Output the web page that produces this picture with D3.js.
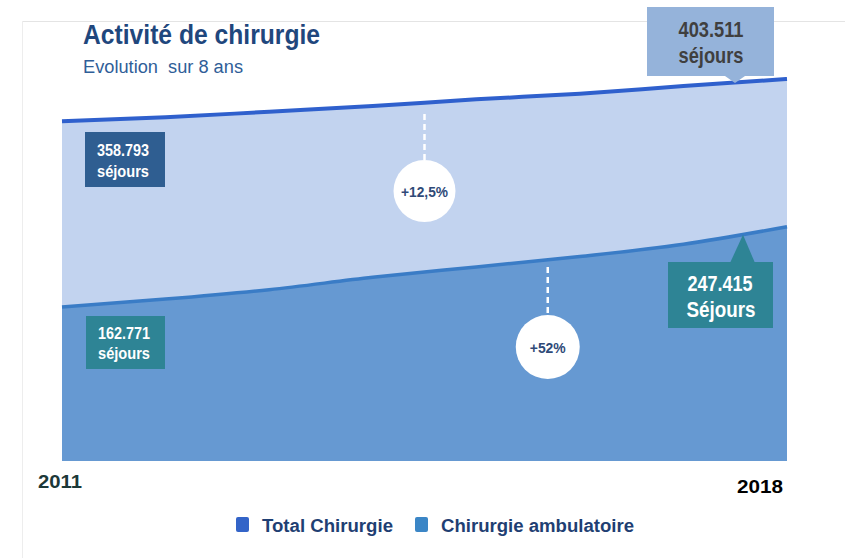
<!DOCTYPE html>
<html>
<head>
<meta charset="utf-8">
<script src="https://cdn.jsdelivr.net/npm/d3@7"></script>
<style>
  body { margin: 0; background: #fff; }
  svg { display: block; font-family: "Liberation Sans", Arial, sans-serif; }
</style>
</head>
<body>
<svg id="chart" width="845" height="558"></svg>
<script>
var years = [2011, 2012, 2013, 2014, 2015, 2016, 2017, 2018]
var totalChirurgie = [358793, 363000, 369000, 375000, 382000, 388000, 396000, 403511]
var chirurgieAmbulatoire = [162771, 171000, 181000, 194000, 205000, 216000, 229000, 247415]
var seriesNames = ["Total Chirurgie", "Chirurgie ambulatoire"]
var yearLabels = ["2011", "2018"]
var growthLabels = ["+12,5%", "+52%"]

var svg = d3.select('#chart')

var data = years.map(function(yr, i) {
    return { year: yr, total: totalChirurgie[i], amb: chirurgieAmbulatoire[i] }
})

var x = d3.scaleLinear().domain(d3.extent(years)).range([62, 787]),
    y = d3.scaleLinear().domain([0, d3.max(totalChirurgie)]).range([461, 79])

// helper: condensed looking text, the picture is squeezed horizontally
function label(txt, px, py, size, w, opts) {
    opts = opts || {}
    var t = svg.append('text')
        .attr('x', px).attr('y', py)
        .attr('font-size', size)
        .attr('font-weight', opts.weight || 'bold')
        .attr('fill', opts.fill || '#fff')
        .attr('text-anchor', opts.anchor || 'middle')
        .style('white-space', 'pre')
        .text(txt)
    if (w) t.attr('textLength', w).attr('lengthAdjust', 'spacingAndGlyphs')
    return t
}

// faint frame
svg.append('line').attr('x1', 22).attr('x2', 845).attr('y1', 21.5).attr('y2', 21.5)
    .attr('stroke', '#e4e4e4').attr('stroke-width', 1)
svg.append('line').attr('x1', 22.5).attr('x2', 22.5).attr('y1', 21).attr('y2', 558)
    .attr('stroke', '#ededed').attr('stroke-width', 1)

// areas
var areaTotal = d3.area().x(function(d) { return x(d.year) }).y0(y(0))
    .y1(function(d) { return y(d.total) }).curve(d3.curveMonotoneX)
var areaAmb = d3.area().x(function(d) { return x(d.year) }).y0(y(0))
    .y1(function(d) { return y(d.amb) }).curve(d3.curveMonotoneX)
var lineTotal = d3.line().x(function(d) { return x(d.year) })
    .y(function(d) { return y(d.total) }).curve(d3.curveMonotoneX)
var lineAmb = d3.line().x(function(d) { return x(d.year) })
    .y(function(d) { return y(d.amb) }).curve(d3.curveMonotoneX)

svg.append('path').datum(data).attr('d', areaTotal).attr('fill', '#c2d3ef')
svg.append('path').datum(data).attr('d', areaAmb).attr('fill', '#6699d2')
svg.append('path').datum(data).attr('d', lineAmb).attr('fill', 'none')
    .attr('stroke', '#3a7cc6').attr('stroke-width', 3.5)
svg.append('path').datum(data).attr('d', lineTotal).attr('fill', 'none')
    .attr('stroke', '#2f60cd').attr('stroke-width', 4)

// title
label('Activité de chirurgie', 83, 44, 27, 237, { fill: '#1f477d', anchor: 'start' })
label('Evolution  sur 8 ans', 83, 73, 18, 160, { fill: '#2f5e98', anchor: 'start', weight: 'normal' })

// callout boxes
var last = data[data.length - 1], first = data[0]

// 403.511 (top right)
var tx = x(last.year) - 52, ty = y(last.total)
svg.append('rect').attr('x', tx - 88).attr('y', 7).attr('width', 127).attr('height', 69).attr('fill', '#95b3da')
svg.append('path').attr('d', 'M' + (tx - 10) + ',76L' + (tx + 10) + ',76L' + tx + ',' + (ty + 4) + 'Z').attr('fill', '#95b3da')
label(d3.format(',')(last.total).replace(',', '.'), tx - 24, 37, 22, 65, { fill: '#3f3f3f' })
label('séjours', tx - 24, 63, 22, 65, { fill: '#3f3f3f' })

// 358.793 (top left)
svg.append('rect').attr('x', x(first.year) + 23).attr('y', 132).attr('width', 80).attr('height', 55).attr('fill', '#2f5e91')
label(d3.format(',')(first.total).replace(',', '.'), x(first.year) + 61, 156, 17, 52)
label('séjours', x(first.year) + 61, 177, 17, 52)

// 162.771 (bottom left)
svg.append('rect').attr('x', x(first.year) + 24).attr('y', 316).attr('width', 79).attr('height', 53).attr('fill', '#2e8495')
label(d3.format(',')(first.amb).replace(',', '.'), x(first.year) + 62, 339, 17, 52)
label('séjours', x(first.year) + 62, 359, 17, 52)

// 247.415 (bottom right)
var bx = x(last.year) - 44
svg.append('rect').attr('x', bx - 75).attr('y', 262).attr('width', 105).attr('height', 66).attr('fill', '#2e8495')
svg.append('path').attr('d', 'M' + (bx - 13) + ',263L' + (bx + 12) + ',263L' + bx + ',' + (y(last.amb) + 8) + 'Z').attr('fill', '#2e8495')
label(d3.format(',')(last.amb).replace(',', '.'), bx - 23, 291, 22, 65)
label('Séjours', bx - 22, 317, 22, 69)

// growth bubbles
var bubbles = [
    { yr: 2014.5, top: 114, cy: 191, r: 31, txt: growthLabels[0], w: 47 },
    { yr: 2015.69, top: 267, cy: 347, r: 32, txt: growthLabels[1], w: 36 }
]
bubbles.forEach(function(b) {
    var cx = x(b.yr)
    svg.append('line').attr('x1', cx).attr('x2', cx).attr('y1', b.top).attr('y2', b.cy - b.r)
        .attr('stroke', '#fff').attr('stroke-width', 2.5).attr('stroke-dasharray', '6,4')
    svg.append('circle').attr('cx', cx).attr('cy', b.cy).attr('r', b.r).attr('fill', '#fff')
    label(b.txt, cx, b.cy + 6, 15, b.w, { fill: '#2f4a78' })
})

// year labels
label(yearLabels[0], 60, 488, 18, 44, { fill: '#1c3838' })
label(yearLabels[1], 760, 493, 18, 46, { fill: '#000' })

// legend
var legendColors = ['#3364c8', '#3b86c6']
var legendX = [236, 415], legendW = [131, 193]
seriesNames.forEach(function(name, i) {
    svg.append('rect').attr('x', legendX[i]).attr('y', 517).attr('width', 13).attr('height', 15)
        .attr('rx', 2).attr('fill', legendColors[i])
    label(name, legendX[i] + 26, 532, 18, legendW[i], { fill: '#1f3f73', anchor: 'start' })
})
</script>
</body>
</html>
